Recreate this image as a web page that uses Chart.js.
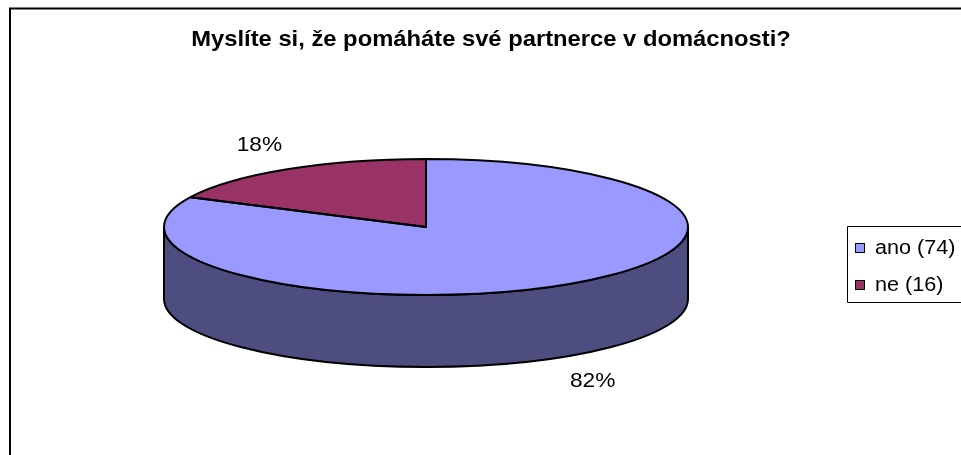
<!DOCTYPE html>
<html><head><meta charset="utf-8">
<script src="https://cdn.jsdelivr.net/npm/chart.js@4/dist/chart.umd.min.js"></script>
<style>html,body{margin:0;padding:0;background:#fff;}canvas{display:block;}</style>
</head><body>
<canvas id="c" width="961" height="455"></canvas>
<script>
// ---- data ----
const categories = ['ano (74)', 'ne (16)'];
const counts = [74, 16];
const percentLabels = ['82%', '18%'];
const topColors = ['#9999FF', '#993366'];
const sideColors = ['#4D4D80', '#4D1A33'];
const titleText = 'Myslíte si, že pomáháte své partnerce v domácnosti?';

// ---- style ----
const FONT = '"Liberation Sans", Arial, sans-serif';
const TILT = 68 / 262;     // vertical squash of the pie top
const DEPTH = 72;          // thickness of the 3D pie
const LABEL_RX = 1.2, LABEL_RY = 1.42;
const TEXT_STRETCH = 1.08; // reference text is rendered slightly wide
const TITLE_STRETCH = 1.08;

function geom(chart) {
  const arc = chart.getDatasetMeta(0).data[0];
  const ca = chart.chartArea;
  const rx = ca.width / 2;
  const ry = rx * TILT;
  return { cx: arc.x, cy: arc.y, r0: arc.outerRadius, rx, ry };
}
function applyTilt(ctx, g) {
  ctx.translate(g.cx, g.cy);
  ctx.scale(g.rx / g.r0, g.ry / g.r0);
  ctx.translate(-g.cx, -g.cy);
}
function wideText(ctx, text, x, y, stretch) {
  ctx.save();
  ctx.translate(x, y);
  ctx.scale(stretch, 1);
  ctx.fillText(text, 0, 0);
  ctx.restore();
}

const pie3d = {
  id: 'pie3d',
  beforeDraw(chart) {
    const ctx = chart.ctx;
    ctx.save();
    ctx.fillStyle = '#fff';
    ctx.fillRect(0, 0, chart.width, chart.height);
    ctx.restore();
  },
  beforeDatasetsDraw(chart) {
    const ctx = chart.ctx;
    const g = geom(chart);
    const arcs = chart.getDatasetMeta(0).data;
    // side walls (front half only)
    arcs.forEach((arc, i) => {
      const s = arc.startAngle, e = arc.endAngle;
      for (let k = -1; k <= 1; k++) {
        const a = Math.max(s + 2 * Math.PI * k, 0);
        const b = Math.min(e + 2 * Math.PI * k, Math.PI);
        if (a < b) {
          ctx.save();
          ctx.beginPath();
          ctx.ellipse(g.cx, g.cy, g.rx, g.ry, 0, a, b, false);
          ctx.lineTo(g.cx + g.rx * Math.cos(b), g.cy + g.ry * Math.sin(b) + DEPTH);
          ctx.ellipse(g.cx, g.cy + DEPTH, g.rx, g.ry, 0, b, a, true);
          ctx.closePath();
          ctx.fillStyle = sideColors[i];
          ctx.fill();
          ctx.lineWidth = 2;
          ctx.lineJoin = 'round';
          ctx.strokeStyle = '#000';
          ctx.stroke();
          ctx.restore();
        }
      }
    });
    ctx.save();
    applyTilt(ctx, g);
  },
  afterDatasetsDraw(chart) {
    const ctx = chart.ctx;
    ctx.restore();
    const g = geom(chart);
    const arcs = chart.getDatasetMeta(0).data;
    arcs.forEach((arc) => {
      ctx.save();
      applyTilt(ctx, g);
      ctx.beginPath();
      ctx.moveTo(g.cx, g.cy);
      ctx.arc(g.cx, g.cy, g.r0, arc.startAngle, arc.endAngle);
      ctx.closePath();
      ctx.restore();
      ctx.save();
      ctx.lineWidth = 2;
      ctx.lineJoin = 'round';
      ctx.strokeStyle = '#000';
      ctx.stroke();
      ctx.restore();
    });
    // percentage labels
    ctx.save();
    ctx.font = '21px ' + FONT;
    ctx.fillStyle = '#000';
    ctx.textAlign = 'center';
    ctx.textBaseline = 'middle';
    arcs.forEach((arc, i) => {
      const mid = (arc.startAngle + arc.endAngle) / 2;
      const sn = Math.sin(mid);
      const x = g.cx + Math.cos(mid) * g.rx * LABEL_RX;
      const y = g.cy + sn * g.ry * LABEL_RY + (sn > 0 ? DEPTH : 0);
      wideText(ctx, percentLabels[i], x, y, TEXT_STRETCH);
    });
    ctx.restore();
  },
  afterDraw(chart) {
    const ctx = chart.ctx;
    ctx.save();
    // title
    ctx.fillStyle = '#000';
    ctx.font = 'bold 22px ' + FONT;
    ctx.textAlign = 'center';
    ctx.textBaseline = 'middle';
    wideText(ctx, titleText, 491, 40, TITLE_STRETCH);
    // outer frame
    ctx.strokeStyle = '#000';
    ctx.lineWidth = 2;
    ctx.beginPath();
    ctx.moveTo(10, chart.height + 2);
    ctx.lineTo(10, 8.5);
    ctx.lineTo(chart.width + 2, 8.5);
    ctx.stroke();
    // legend
    ctx.lineWidth = 1;
    ctx.beginPath();
    ctx.moveTo(chart.width + 2, 226.5);
    ctx.lineTo(847.5, 226.5);
    ctx.lineTo(847.5, 302.5);
    ctx.lineTo(chart.width + 2, 302.5);
    ctx.stroke();
    ctx.font = '20px ' + FONT;
    ctx.textBaseline = 'middle';
    ctx.textAlign = 'left';
    categories.forEach((lab, i) => {
      const y = 243 + i * 37;
      ctx.fillStyle = topColors[i];
      ctx.fillRect(855, y, 10, 10);
      ctx.strokeStyle = '#000';
      ctx.strokeRect(855.5, y + 0.5, 9, 9);
      ctx.fillStyle = '#000';
      wideText(ctx, lab, 875, y + 5, TEXT_STRETCH);
    });
    ctx.restore();
  }
};

new Chart(document.getElementById('c'), {
  type: 'pie',
  data: {
    labels: categories,
    datasets: [{
      data: counts,
      backgroundColor: topColors,
      borderWidth: 0,
      hoverOffset: 0
    }]
  },
  options: {
    responsive: false,
    animation: false,
    devicePixelRatio: 1,
    events: [],
    layout: { padding: { left: 164, right: 273, top: 63, bottom: 64 } },
    plugins: {
      legend: { display: false },
      tooltip: { enabled: false },
      title: { display: false }
    }
  },
  plugins: [pie3d]
});
</script>
</body></html>
